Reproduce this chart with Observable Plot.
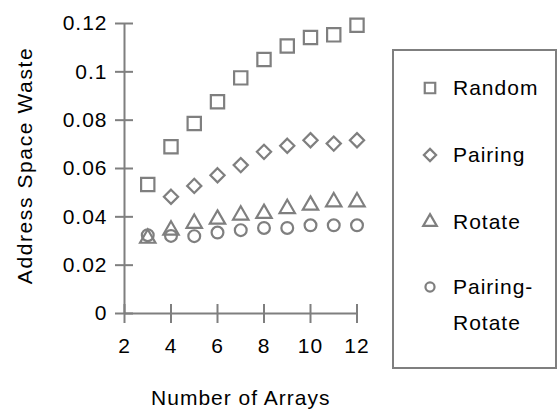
<!DOCTYPE html>
<html><head><meta charset="utf-8">
<script src="https://cdn.jsdelivr.net/npm/d3@7"></script>
<script src="https://cdn.jsdelivr.net/npm/@observablehq/plot@0.6"></script>
<style>
body{margin:0;background:#fff}
#wrap{position:relative;width:560px;height:411px}
#legend{position:absolute;left:0;top:0;pointer-events:none}
</style>
</head><body><div id="wrap"></div>
<script>
const arrays = [3, 4, 5, 6, 7, 8, 9, 10, 11, 12];
const random = [0.0534, 0.0690, 0.0786, 0.0876, 0.0975, 0.1051, 0.1107, 0.1142, 0.1153, 0.1193];
const pairing = [null, 0.0483, 0.0528, 0.0572, 0.0614, 0.0669, 0.0694, 0.0717, 0.0703, 0.0717];
const rotate = [0.0311, 0.0345, 0.0373, 0.0390, 0.0407, 0.0414, 0.0434, 0.0448, 0.0462, 0.0462];
const pairingRotate = [0.0324, 0.0321, 0.0320, 0.0335, 0.0345, 0.0354, 0.0354, 0.0365, 0.0365, 0.0365];
const seriesNames = ["Random", "Pairing", "Rotate", "Pairing-Rotate"];
const legendLines = [["Random"], ["Pairing"], ["Rotate"], ["Pairing-", "Rotate"]];
const xTicks = [2, 4, 6, 8, 10, 12];
const yTicks = [0, 0.02, 0.04, 0.06, 0.08, 0.1, 0.12];
const yTickLabels = ["0", "0.02", "0.04", "0.06", "0.08", "0.1", "0.12"];
const xLabel = "Number of Arrays";
const yLabel = "Address Space Waste";

const gray = "#7f7f7f";
const fontFamily = "'Liberation Sans', Arial, Helvetica, sans-serif";
const values = [random, pairing, rotate, pairingRotate];
const symbols = ["square", "diamond2", "triangle", "circle"];
const radii = [7.5, 6.4, 5.7, 5.9];

const rows = [];
values.forEach((vals, s) => vals.forEach((v, i) => { if (v != null) rows.push({series: seriesNames[s], x: arrays[i], y: v}); }));

const dotMarks = seriesNames.map((name, s) =>
  Plot.dot(rows.filter(d => d.series === name), {
    x: "x", y: "y", symbol: () => symbols[s], r: radii[s],
    stroke: gray, strokeWidth: 2.2, fill: "none"
  })
);

const chart = Plot.plot({
  width: 560, height: 411,
  marginLeft: 124, marginRight: 203.5, marginTop: 23, marginBottom: 98,
  style: {fontFamily, fontSize: "21px", letterSpacing: "1px", color: "black", background: "white"},
  x: {domain: [2, 12]},
  y: {domain: [0, 0.12]},
  symbol: {type: "identity"},
  marks: [
    Plot.ruleX([2], {y1: 0, y2: 0.12, stroke: gray, strokeWidth: 2}),
    Plot.ruleY([0], {x1: 2, x2: 12, stroke: gray, strokeWidth: 2}),
    Plot.axisY({ticks: yTicks, tickSize: 18, dx: 9, stroke: gray, strokeWidth: 2, tickFormat: () => "", label: null}),
    Plot.axisY({ticks: yTicks, tickSize: 0, tickPadding: 17, fill: "black", tickFormat: d => yTickLabels[yTicks.indexOf(d)], label: null}),
    Plot.axisX({ticks: xTicks, tickSize: 19, dy: -9, stroke: gray, strokeWidth: 2, tickFormat: () => "", label: null}),
    Plot.axisX({ticks: xTicks, tickSize: 0, tickPadding: 25, fill: "black", tickFormat: d => String(d), label: null}),
    Plot.text([yLabel], {frameAnchor: "left", textAnchor: "middle", lineAnchor: "middle", rotate: -90, dx: -99, dy: -3, fill: "black"}),
    Plot.text([xLabel], {frameAnchor: "bottom", textAnchor: "middle", lineAnchor: "middle", dy: 85, fill: "black"}),
    ...dotMarks
  ]
});
d3.select(chart).selectAll("text").filter(function() { return this.textContent === yLabel; }).style("letter-spacing", "1.6px");

const wrap = document.getElementById("wrap");
wrap.appendChild(chart);

// Legend
const lg = d3.select(wrap).append("svg").attr("id", "legend").attr("width", 560).attr("height", 411)
  .style("font-family", fontFamily).style("font-size", "21px").style("letter-spacing", "1px");
lg.append("rect").attr("x", 393).attr("y", 50).attr("width", 163).attr("height", 318)
  .attr("fill", "white").attr("stroke", gray).attr("stroke-width", 2);
const rowY = [88, 155, 222, 287];
const legendSizes = [110, 95, 80, 65];
const symbolFns = [d3.symbolSquare, d3.symbolDiamond2, d3.symbolTriangle, d3.symbolCircle];
seriesNames.forEach((name, s) => {
  lg.append("path").attr("d", d3.symbol(symbolFns[s], legendSizes[s])())
    .attr("transform", `translate(430,${rowY[s]})`)
    .attr("fill", "none").attr("stroke", gray).attr("stroke-width", 2.2);
  legendLines[s].forEach((line, j) => {
    lg.append("text").attr("x", 453).attr("y", rowY[s] + j * 36).attr("dy", "0.35em").attr("fill", "black").text(line);
  });
});
</script>
</body></html>
